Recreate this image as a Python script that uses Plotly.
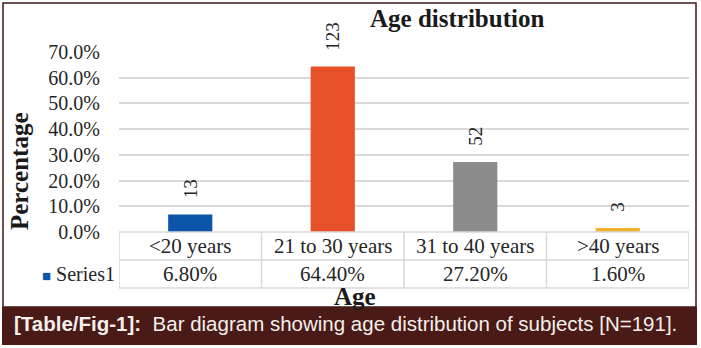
import plotly.graph_objects as go

# ---- data ----
categories = ["<20 years", "21 to 30 years", "31 to 40 years", ">40 years"]
percent_values = [0.068, 0.644, 0.272, 0.016]
counts = [13, 123, 52, 3]
table_values = ["6.80%", "64.40%", "27.20%", "1.60%"]
series_name = "Series1"
bar_colors = ["#0C55A8", "#E8502A", "#8C8C8C", "#F2B12A"]
y_ticks = [0.0, 0.1, 0.2, 0.3, 0.4, 0.5, 0.6, 0.7]

W, H = 701, 348
L, R, T, B = 119, 12, 52, 116
PW, PH = W - L - R, H - T - B

def xp(px):
    return (px - L) / PW

def yp(py):
    return (H - B - py) / PH

SERIF = "Times New Roman, Liberation Serif, DejaVu Serif, serif"
SANS = "Arial, Liberation Sans, Helvetica, sans-serif"
TXT = "#262626"
GRID = "#D9D9D9"

fig = go.Figure()
fig.add_trace(go.Bar(
    x=list(range(len(categories))), y=percent_values,
    marker=dict(color=bar_colors, line=dict(width=0)),
    name=series_name, showlegend=False, hoverinfo="skip",
))

shapes = []
annotations = []

# frame and caption banner
shapes.append(dict(type="rect", xref="paper", yref="paper",
                   x0=xp(3), x1=xp(696), y0=yp(307), y1=yp(3),
                   line=dict(color="#3B1A18", width=1.5), fillcolor="rgba(0,0,0,0)", layer="below"))
shapes.append(dict(type="rect", xref="paper", yref="paper",
                   x0=xp(2), x1=xp(697), y0=yp(345), y1=yp(307),
                   line=dict(width=0), fillcolor="#4A1A17", layer="above"))

# data labels (rotated counts)
for i, (v, c) in enumerate(zip(percent_values, counts)):
    annotations.append(dict(x=i, y=v, xref="x", yref="y", text=str(c), showarrow=False,
                            textangle=-90, yanchor="bottom", xanchor="center", yshift=14,
                            font=dict(family=SERIF, size=19, color=TXT)))

# data table
row1_top, row1_bot, row2_bot = 232, 260, 288
left_edge = -0.5 - (119 - 35) / (PW / len(categories))
ncat = len(categories)
# horizontal lines
shapes.append(dict(type="line", xref="x", yref="paper", x0=-0.5, x1=ncat - 0.5,
                   y0=yp(row1_top), y1=yp(row1_top), line=dict(color=GRID, width=1.5)))
shapes.append(dict(type="line", xref="x", yref="paper", x0=left_edge, x1=ncat - 0.5,
                   y0=yp(row1_bot), y1=yp(row1_bot), line=dict(color=GRID, width=1.5)))
shapes.append(dict(type="line", xref="x", yref="paper", x0=left_edge, x1=ncat - 0.5,
                   y0=yp(row2_bot), y1=yp(row2_bot), line=dict(color=GRID, width=1.5)))
# vertical lines
for k in range(ncat + 1):
    xv = k - 0.5
    shapes.append(dict(type="line", xref="x", yref="paper", x0=xv, x1=xv,
                       y0=yp(row2_bot), y1=yp(row1_top), line=dict(color=GRID, width=1.5)))
shapes.append(dict(type="line", xref="x", yref="paper", x0=left_edge, x1=left_edge,
                   y0=yp(row2_bot), y1=yp(row1_bot), line=dict(color=GRID, width=1.5)))

for i, (cat, val) in enumerate(zip(categories, table_values)):
    annotations.append(dict(x=i, y=yp((row1_top + row1_bot) / 2), xref="x", yref="paper",
                            text=cat.replace("<", "&lt;").replace(">", "&gt;"), showarrow=False,
                            xanchor="center", yanchor="middle",
                            font=dict(family=SERIF, size=21, color=TXT)))
    annotations.append(dict(x=i, y=yp((row1_bot + row2_bot) / 2), xref="x", yref="paper",
                            text=val, showarrow=False, xanchor="center", yanchor="middle",
                            font=dict(family=SERIF, size=21, color=TXT)))

# legend key in table
annotations.append(dict(x=xp(40), y=yp((row1_bot + row2_bot) / 2), xref="paper", yref="paper",
                        text="<span style='color:%s;font-size:15px'>■</span> %s" % (bar_colors[0], series_name),
                        showarrow=False, xanchor="left", yanchor="middle",
                        font=dict(family=SERIF, size=20, color=TXT)))

# titles
annotations.append(dict(x=xp(457), y=yp(18), xref="paper", yref="paper",
                        text="<b>Age distribution</b>", showarrow=False,
                        xanchor="center", yanchor="middle",
                        font=dict(family=SERIF, size=25, color="#1A1A1A")))
annotations.append(dict(x=xp(355), y=yp(296), xref="paper", yref="paper",
                        text="<b>Age</b>", showarrow=False,
                        xanchor="center", yanchor="middle",
                        font=dict(family=SERIF, size=25, color="#1A1A1A")))
annotations.append(dict(x=xp(19), y=yp(171), xref="paper", yref="paper",
                        text="<b>Percentage</b>", showarrow=False, textangle=-90,
                        xanchor="center", yanchor="middle",
                        font=dict(family=SERIF, size=25, color="#1A1A1A")))

# caption
annotations.append(dict(x=xp(12), y=yp(323), xref="paper", yref="paper",
                        text="<b>[Table/Fig-1]:</b>  Bar diagram showing age distribution of subjects [N=191].",
                        showarrow=False, xanchor="left", yanchor="middle",
                        font=dict(family=SANS, size=20.5, color="#F4EFEC")))

fig.update_layout(
    width=W, height=H,
    margin=dict(l=L, r=R, t=T, b=B, pad=0),
    paper_bgcolor="white", plot_bgcolor="white",
    bargap=0.69,
    xaxis=dict(range=[-0.5, ncat - 0.5], showticklabels=False, showgrid=False,
               zeroline=False, showline=False, ticks=""),
    yaxis=dict(range=[0, 0.7], tickvals=y_ticks, tickformat=".1%",
               showgrid=True, gridcolor=GRID, gridwidth=1.5, zeroline=False,
               showline=False, ticks="", ticklabelstandoff=18,
               tickfont=dict(family=SERIF, size=20, color=TXT)),
    shapes=shapes, annotations=annotations,
)

fig.write_html("out.html")
